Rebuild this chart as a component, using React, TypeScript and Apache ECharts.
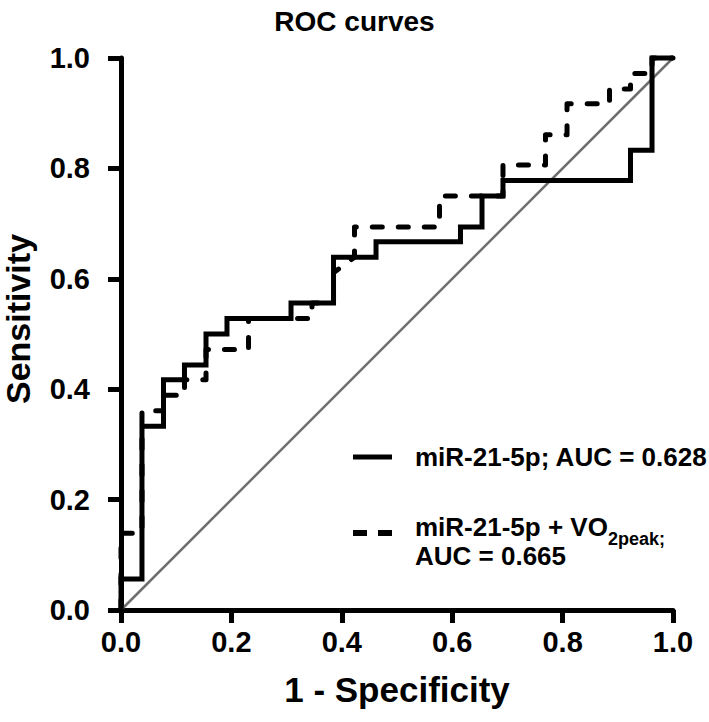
import React, { useEffect, useRef } from "react";
import * as echarts from "echarts";

// 1 - Specificity (FPR) and Sensitivity (TPR) for each curve
const fprSingle = [0, 0, 0.038, 0.038, 0.077, 0.077, 0.115, 0.115, 0.154, 0.154, 0.192, 0.192, 0.308, 0.308, 0.385, 0.385, 0.462, 0.462, 0.615, 0.615, 0.654, 0.654, 0.692, 0.692, 0.923, 0.923, 0.962, 0.962, 1];
const tprSingle = [0, 0.056, 0.056, 0.333, 0.333, 0.417, 0.417, 0.444, 0.444, 0.5, 0.5, 0.528, 0.528, 0.556, 0.556, 0.639, 0.639, 0.667, 0.667, 0.694, 0.694, 0.75, 0.75, 0.778, 0.778, 0.833, 0.833, 1, 1];

const fprCombined = [0, 0, 0.038, 0.038, 0.077, 0.077, 0.115, 0.115, 0.154, 0.154, 0.231, 0.231, 0.346, 0.346, 0.385, 0.385, 0.423, 0.423, 0.577, 0.577, 0.692, 0.692, 0.769, 0.769, 0.808, 0.808, 0.885, 0.885, 0.923, 0.923, 0.962, 0.962, 1];
const tprCombined = [0, 0.139, 0.139, 0.361, 0.361, 0.389, 0.389, 0.417, 0.417, 0.472, 0.472, 0.528, 0.528, 0.556, 0.556, 0.611, 0.639, 0.694, 0.694, 0.75, 0.75, 0.806, 0.806, 0.861, 0.861, 0.917, 0.917, 0.944, 0.944, 0.972, 0.972, 1, 1];

const refX = [0, 1];
const refY = [0, 1];

const xTicks = [0, 0.2, 0.4, 0.6, 0.8, 1.0];

const titleText = "ROC curves";
const xName = "1 - Specificity";
const yName = "Sensitivity";
const legend1 = "miR-21-5p; AUC = 0.628";
const legend2a = "miR-21-5p + VO";
const legend2sub = "2peak;";
const legend2b = "AUC = 0.665";

const FONT = '"Liberation Sans", Arial, Helvetica, sans-serif';

function zip(xs: number[], ys: number[]) {
  return xs.map((x, i) => [x, ys[i]]);
}

function measure(text: string, size: number) {
  const c = document.createElement("canvas").getContext("2d");
  if (!c) return text.length * size * 0.6;
  c.font = `bold ${size}px ${FONT}`;
  return c.measureText(text).width;
}

export default function App() {
  const ref = useRef<HTMLDivElement>(null);

  useEffect(() => {
    document.body.style.margin = "0";
    if (!ref.current) return;
    const chart = echarts.init(ref.current, null, { renderer: "svg" });

    const legX = 415;
    const subX = legX + measure(legend2a, 26);

    chart.setOption({
      animation: false,
      backgroundColor: "#ffffff",
      title: {
        text: titleText,
        left: "center",
        top: 2,
        textStyle: { fontFamily: FONT, fontWeight: "bold", fontSize: 28, color: "#000" },
      },
      grid: { left: 121, right: 36, top: 58, bottom: 112, containLabel: false, outerBoundsMode: "none" },
      xAxis: {
        type: "value",
        min: 0,
        max: 1,
        interval: 0.2,
        name: xName,
        nameLocation: "middle",
        nameGap: 62,
        nameTextStyle: { fontFamily: FONT, fontWeight: "bold", fontSize: 35, color: "#000" },
        axisLine: { show: true, onZero: false, lineStyle: { color: "#000", width: 5 } },
        axisTick: { show: true, length: 13, lineStyle: { color: "#000", width: 5 } },
        axisLabel: {
          margin: 17,
          fontFamily: FONT,
          fontWeight: "bold",
          fontSize: 29,
          color: "#000",
          formatter: (v: number) => (xTicks.includes(Math.round(v * 10) / 10) ? v.toFixed(1) : ""),
        },
        splitLine: { show: false },
      },
      yAxis: {
        type: "value",
        min: 0,
        max: 1,
        interval: 0.2,
        name: yName,
        nameLocation: "middle",
        nameGap: 86,
        nameTextStyle: {
          fontFamily: FONT,
          fontWeight: "bold",
          fontSize: 34,
          color: "#000",
          padding: [0, 0, 0, 30],
        },
        axisLine: { show: true, onZero: false, lineStyle: { color: "#000", width: 5 } },
        axisTick: { show: true, length: 13, lineStyle: { color: "#000", width: 5 } },
        axisLabel: {
          margin: 31,
          fontFamily: FONT,
          fontWeight: "bold",
          fontSize: 29,
          color: "#000",
          formatter: (v: number) => v.toFixed(1),
        },
        splitLine: { show: false },
      },
      series: [
        {
          name: "Reference",
          type: "line",
          data: zip(refX, refY),
          showSymbol: false,
          clip: false,
          silent: true,
          lineStyle: { color: "#6e6e6e", width: 2.5 },
          z: 1,
        },
        {
          name: "miR-21-5p + VO2peak",
          type: "line",
          data: zip(fprCombined, tprCombined),
          showSymbol: false,
          clip: false,
          lineStyle: { color: "#000", width: 5, type: [10, 16], cap: "round", join: "round" },
          z: 2,
        },
        {
          name: "miR-21-5p",
          type: "line",
          data: zip(fprSingle, tprSingle),
          showSymbol: false,
          clip: false,
          lineStyle: { color: "#000", width: 5, cap: "butt", join: "miter" },
          z: 3,
        },
      ],
      graphic: [
        {
          type: "line",
          shape: { x1: 353, y1: 457, x2: 392, y2: 457 },
          style: { stroke: "#000", lineWidth: 5 },
        },
        {
          type: "line",
          shape: { x1: 353, y1: 533, x2: 392, y2: 533 },
          style: { stroke: "#000", lineWidth: 6, lineDash: [14, 11] },
        },
        {
          type: "text",
          x: legX,
          y: 457,
          style: {
            text: legend1,
            font: `bold 26px ${FONT}`,
            fill: "#000",
            textAlign: "left",
            verticalAlign: "middle",
          },
        },
        {
          type: "text",
          x: legX,
          y: 527,
          style: {
            text: legend2a,
            font: `bold 26px ${FONT}`,
            fill: "#000",
            textAlign: "left",
            verticalAlign: "middle",
          },
        },
        {
          type: "text",
          x: subX,
          y: 539,
          style: {
            text: legend2sub,
            font: `bold 18px ${FONT}`,
            fill: "#000",
            textAlign: "left",
            verticalAlign: "middle",
          },
        },
        {
          type: "text",
          x: legX,
          y: 556,
          style: {
            text: legend2b,
            font: `bold 26px ${FONT}`,
            fill: "#000",
            textAlign: "left",
            verticalAlign: "middle",
          },
        },
      ],
    });

    return () => chart.dispose();
  }, []);

  return <div ref={ref} style={{ width: 709, height: 722 }} />;
}
